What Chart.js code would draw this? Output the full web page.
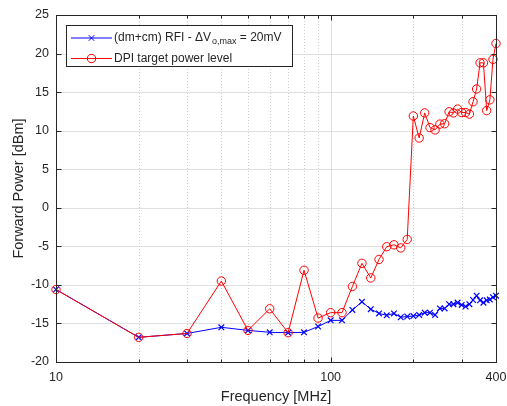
<!DOCTYPE html>
<html>
<head>
<meta charset="utf-8">
<script src="https://cdn.jsdelivr.net/npm/chart.js@4.4.0/dist/chart.umd.min.js"></script>
<style>
  html, body { margin: 0; padding: 0; background: #ffffff; }
  #wrap { width: 507px; height: 406px; position: relative; }
</style>
</head>
<body>
<div id="wrap"><canvas id="c" width="507" height="406"></canvas></div>
<script>
// ---- data ----
const freqs = [10,20,30,40,50,60,70,80,90,100,110,120,130,140,150,160,170,180,190,200,
               210,220,230,240,250,260,270,280,290,300,310,320,330,340,350,360,370,380,390,400];
const rfiVoltage = [-10.6,-16.8,-16.3,-15.5,-15.9,-16.15,-16.2,-16.15,-15.4,-14.6,
                    -14.6,-13.25,-12.2,-13.15,-13.7,-13.95,-13.7,-14.2,-14.1,-14.05,
                    -13.9,-13.6,-13.6,-13.9,-13.05,-13.05,-12.5,-12.5,-12.3,-12.6,
                    -12.8,-12.5,-11.96,-11.4,-12.0,-12.3,-12.0,-11.9,-11.6,-11.4];
const dpiTarget = [-10.6,-16.8,-16.3,-9.5,-15.9,-13.1,-16.2,-8.1,-14.3,-13.6,
                   -13.6,-10.2,-7.2,-9.1,-6.7,-5.05,-4.8,-5.2,-4.1,11.9,
                   9.05,12.3,10.4,10.1,10.85,10.9,12.45,12.3,12.8,12.35,
                   12.35,12.15,13.75,15.4,18.8,18.8,12.6,14.0,19.25,21.3];
const xTicksAll = [10,20,30,40,50,60,70,80,90,100,200,300,400];
const xTickLabels = [10,100,400];
const xMajor = [10,100,400];
const yTicks = [-20,-15,-10,-5,0,5,10,15,20,25];
const seriesNames = ['(dm+cm) RFI - \u0394V', 'DPI target power level'];

const FONT = "'Liberation Sans', Arial, Helvetica, sans-serif";
const AXC = '#262626';

const matlabAxes = {
  id: 'matlabAxes',
  beforeDatasetsDraw(chart) {
    const {ctx, chartArea: a, scales: {x, y}} = chart;
    ctx.save();
    ctx.lineWidth = 1;
    ctx.strokeStyle = '#dfdfdf';
    yTicks.forEach(v => {
      const py = Math.round(y.getPixelForValue(v)) + 0.5;
      ctx.beginPath(); ctx.moveTo(a.left, py); ctx.lineTo(a.right, py); ctx.stroke();
    });
    xTicksAll.forEach(v => {
      const px = Math.round(x.getPixelForValue(v)) + 0.5;
      if (xMajor.includes(v)) { ctx.setLineDash([]); ctx.strokeStyle = '#dfdfdf'; }
      else { ctx.setLineDash([1, 2]); ctx.strokeStyle = '#cfcfcf'; }
      ctx.beginPath(); ctx.moveTo(px, a.top); ctx.lineTo(px, a.bottom); ctx.stroke();
    });
    ctx.restore();
  },
  afterDatasetsDraw(chart) {
    const {ctx, chartArea: a, scales: {x, y}} = chart;
    ctx.save();
    ctx.strokeStyle = AXC;
    ctx.lineWidth = 1;
    const L = Math.round(a.left) + 0.5, R = Math.round(a.right) + 0.5;
    const T = Math.round(a.top) + 0.5, B = Math.round(a.bottom) + 0.5;
    ctx.strokeRect(L, T, R - L, B - T);
    yTicks.forEach(v => {
      const py = Math.round(y.getPixelForValue(v)) + 0.5;
      ctx.beginPath();
      ctx.moveTo(L, py); ctx.lineTo(L + 5, py);
      ctx.moveTo(R, py); ctx.lineTo(R - 5, py);
      ctx.stroke();
    });
    xTicksAll.forEach(v => {
      const px = Math.round(x.getPixelForValue(v)) + 0.5;
      const len = xMajor.includes(v) ? 5 : 3;
      ctx.beginPath();
      ctx.moveTo(px, B); ctx.lineTo(px, B - len);
      ctx.moveTo(px, T); ctx.lineTo(px, T + len);
      ctx.stroke();
    });
    // legend
    const lx0 = 66.5, ly0 = 25.5, lx1 = 292.5, ly1 = 66.5;
    ctx.fillStyle = '#ffffff';
    ctx.fillRect(lx0, ly0, lx1 - lx0, ly1 - ly0);
    ctx.strokeStyle = AXC;
    ctx.strokeRect(lx0, ly0, lx1 - lx0, ly1 - ly0);
    const rows = [
      {yy: 38, color: '#0000ff', marker: 'x'},
      {yy: 58.5, color: '#ff0000', marker: 'o'}
    ];
    rows.forEach((r) => {
      ctx.strokeStyle = r.color; ctx.lineWidth = 1;
      ctx.beginPath(); ctx.moveTo(71, r.yy); ctx.lineTo(112, r.yy); ctx.stroke();
      const mx = 91.5;
      ctx.beginPath();
      if (r.marker === 'x') {
        ctx.moveTo(mx - 2.8, r.yy - 2.8); ctx.lineTo(mx + 2.8, r.yy + 2.8);
        ctx.moveTo(mx - 2.8, r.yy + 2.8); ctx.lineTo(mx + 2.8, r.yy - 2.8);
      } else {
        ctx.arc(mx, r.yy, 4.2, 0, Math.PI * 2);
      }
      ctx.stroke();
    });
    ctx.fillStyle = AXC;
    ctx.textBaseline = 'middle';
    ctx.textAlign = 'left';
    ctx.font = '12px ' + FONT;
    let tx = 114;
    ctx.fillText(seriesNames[0], tx, 38);
    tx += ctx.measureText(seriesNames[0]).width + 1;
    ctx.font = '9px ' + FONT;
    ctx.fillText('o,max', tx, 42);
    tx += ctx.measureText('o,max').width;
    ctx.font = '12px ' + FONT;
    ctx.fillText(' = 20mV', tx, 38);
    ctx.fillText(seriesNames[1], 114, 58.5);
    ctx.restore();
  }
};

new Chart(document.getElementById('c'), {
  type: 'line',
  data: {
    datasets: [
      {
        label: seriesNames[0],
        data: freqs.map((f, i) => ({x: f, y: rfiVoltage[i]})),
        borderColor: '#0000ff',
        backgroundColor: '#0000ff',
        borderWidth: 1,
        pointStyle: 'crossRot',
        pointRadius: 4,
        pointBorderWidth: 1.2,
        pointBorderColor: '#0000ff',
        tension: 0,
        fill: false,
        clip: false,
        order: 2
      },
      {
        label: seriesNames[1],
        data: freqs.map((f, i) => ({x: f, y: dpiTarget[i]})),
        borderColor: '#ff0000',
        backgroundColor: 'rgba(0,0,0,0)',
        borderWidth: 1,
        pointStyle: 'circle',
        pointRadius: 4.2,
        pointBorderWidth: 1,
        pointBorderColor: '#ff0000',
        pointBackgroundColor: 'rgba(0,0,0,0)',
        tension: 0,
        fill: false,
        clip: false,
        order: 1
      }
    ]
  },
  options: {
    responsive: false,
    animation: false,
    events: [],
    layout: { padding: { top: 15, right: 11, left: 0, bottom: 0 } },
    plugins: { legend: { display: false }, tooltip: { enabled: false } },
    scales: {
      x: {
        type: 'logarithmic',
        min: 10, max: 400,
        afterBuildTicks: (s) => { s.ticks = xTicksAll.map(v => ({value: v})); },
        afterFit: (s) => { s.height = 44; s.paddingLeft = 0; s.paddingRight = 0; },
        grid: { display: false, drawTicks: false },
        border: { display: false },
        ticks: {
          autoSkip: false, maxRotation: 0, padding: 8,
          color: AXC, font: { family: FONT, size: 12.5 },
          callback: (v) => xTickLabels.includes(v) ? String(v) : ''
        },
        title: { display: true, text: 'Frequency [MHz]', color: AXC,
                 font: { family: FONT, size: 14.5 }, padding: { top: 0, bottom: 0 } }
      },
      y: {
        type: 'linear',
        min: -20, max: 25,
        afterBuildTicks: (s) => { s.ticks = yTicks.map(v => ({value: v})); },
        afterFit: (s) => { s.width = 56; s.paddingTop = 0; s.paddingBottom = 0; },
        grid: { display: false, drawTicks: false },
        border: { display: false },
        ticks: { padding: 7, color: AXC, font: { family: FONT, size: 12.5 } },
        title: { display: true, text: 'Forward Power [dBm]', color: AXC,
                 font: { family: FONT, size: 14.5 }, padding: { top: 10, bottom: 0 } }
      }
    }
  },
  plugins: [matlabAxes]
});
</script>
</body>
</html>
